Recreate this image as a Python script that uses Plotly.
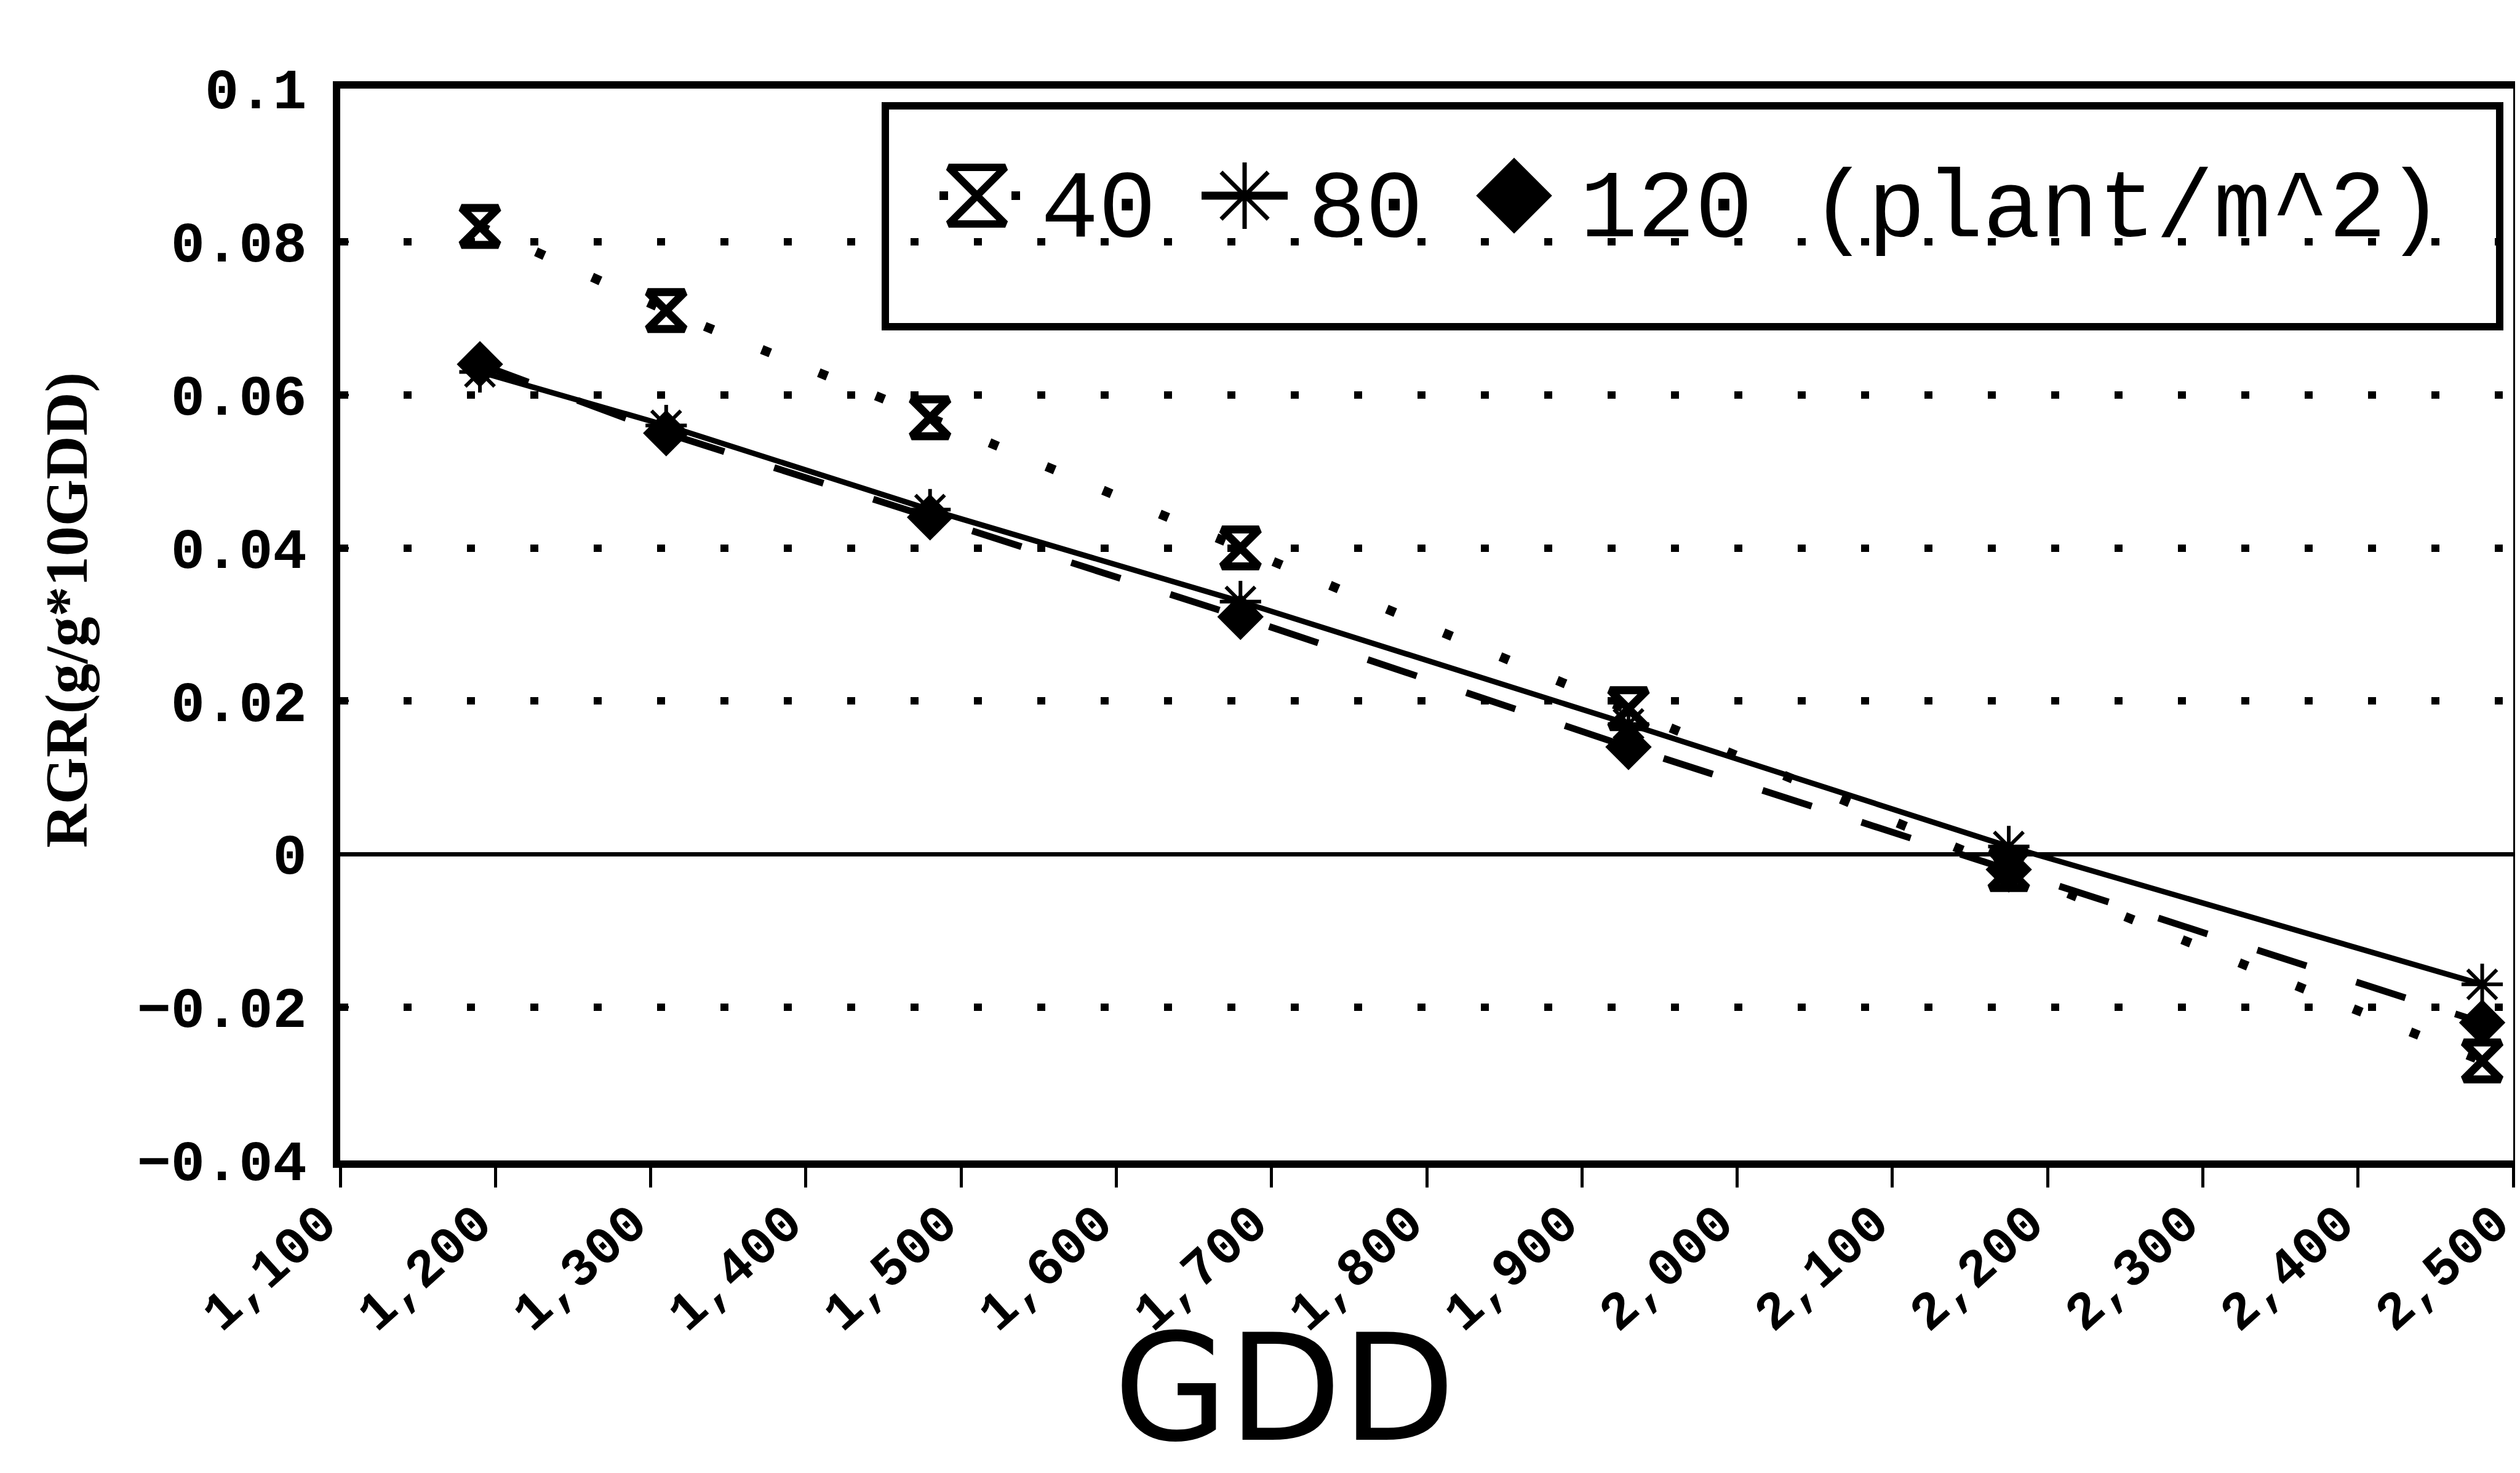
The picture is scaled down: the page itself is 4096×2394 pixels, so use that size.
import plotly.graph_objects as go

# ---------------- data ----------------
gdd = [1190, 1310, 1480, 1680, 1930, 2175, 2480]
rgr_40 = [0.082, 0.071, 0.057, 0.040, 0.019, -0.002, -0.027]
rgr_80 = [0.063, 0.056, 0.045, 0.033, 0.017, 0.001, -0.017]
rgr_120 = [0.064, 0.055, 0.044, 0.031, 0.014, -0.002, -0.022]

series_labels = ["40", "80", "120 (plant/m^2)"]

x_tickvals = [1100, 1200, 1300, 1400, 1500, 1600, 1700, 1800,
              1900, 2000, 2100, 2200, 2300, 2400, 2500]
x_ticktext = ["1,100", "1,200", "1,300", "1,400", "1,500", "1,600", "1,700",
              "1,800", "1,900", "2,000", "2,100", "2,200", "2,300", "2,400",
              "2,500"]
y_tickvals = [0.1, 0.08, 0.06, 0.04, 0.02, 0, -0.02, -0.04]
y_ticktext = ["0.1", "0.08", "0.06", "0.04", "0.02", "0", "\u22120.02", "\u22120.04"]

x_title = "GDD"
y_title = "RGR(g/g*10GDD)"

# ---------------- figure ----------------
W, H = 4096, 2394
ML, MR, MT, MB = 545, 19, 136, 516
PW, PH = W - ML - MR, H - MT - MB


def px(xp):
    return (xp - ML) / PW


def py(yp):
    return (H - MB - yp) / PH


BLACK = "#000000"
YTICKFONT = dict(family="Liberation Mono", size=92, color=BLACK, weight="bold")
XTICKFONT = dict(family="Liberation Mono", size=86, color=BLACK, weight="bold")

fig = go.Figure()

fig.add_trace(go.Scatter(
    x=gdd, y=rgr_40, mode="lines+markers", name=series_labels[0],
    line=dict(color=BLACK, width=15, dash="15px,85px"),
    marker=dict(symbol="hourglass-open", size=60, color=BLACK,
                line=dict(color=BLACK, width=13)),
    showlegend=False, cliponaxis=False))

fig.add_trace(go.Scatter(
    x=gdd, y=rgr_120, mode="lines+markers", name=series_labels[2],
    line=dict(color=BLACK, width=11, dash="84px,85px"),
    marker=dict(symbol="diamond", size=58, color=BLACK),
    showlegend=False, cliponaxis=False))

fig.add_trace(go.Scatter(
    x=gdd, y=rgr_80, mode="lines+markers", name=series_labels[1],
    line=dict(color=BLACK, width=9),
    marker=dict(symbol="asterisk-open", size=56, color=BLACK,
                line=dict(color=BLACK, width=6)),
    showlegend=False, cliponaxis=False))

# ---------------- hand-built legend (large symbols like the reference) ----------------
leg_marker_y = py(310)
leg_text_y = py(334)
leg_sym_x = [px(1580), px(2015), px(2453)]
leg_text_x = [px(1682), px(2116), px(2558)]

fig.add_trace(go.Scatter(
    x=[leg_sym_x[0]], y=[leg_marker_y], xaxis="x2", yaxis="y2", mode="markers",
    marker=dict(symbol="hourglass-open", size=92, color=BLACK,
                line=dict(color=BLACK, width=12)),
    showlegend=False, hoverinfo="skip"))
fig.add_trace(go.Scatter(
    x=[leg_sym_x[1]], y=[leg_marker_y], xaxis="x2", yaxis="y2", mode="markers",
    marker=dict(symbol="asterisk-open", size=90, color=BLACK,
                line=dict(color=BLACK, width=7)),
    showlegend=False, hoverinfo="skip"))
fig.add_trace(go.Scatter(
    x=[leg_sym_x[2]], y=[leg_marker_y], xaxis="x2", yaxis="y2", mode="markers",
    marker=dict(symbol="diamond", size=95, color=BLACK),
    showlegend=False, hoverinfo="skip"))

shapes = [
    # legend frame
    dict(type="rect", xref="paper", yref="paper",
         x0=px(1431), x1=px(4055), y0=py(523), y1=py(164),
         line=dict(color=BLACK, width=12), fillcolor="white", layer="below"),
    # dotted segment for 40
    dict(type="line", xref="paper", yref="paper",
         x0=px(1519), x1=px(1650), y0=leg_marker_y, y1=leg_marker_y,
         line=dict(color=BLACK, width=14, dash="14px,103px")),
    # solid segment for 80
    dict(type="line", xref="paper", yref="paper",
         x0=px(1945), x1=px(2085), y0=leg_marker_y, y1=leg_marker_y,
         line=dict(color=BLACK, width=13)),
]

annotations = []
for lbl, xx in zip(series_labels, leg_text_x):
    annotations.append(dict(
        text=lbl, xref="paper", yref="paper", x=xx, y=leg_text_y,
        xanchor="left", yanchor="middle", showarrow=False,
        font=dict(family="Liberation Mono", size=156, color=BLACK)))

annotations.append(dict(
    text=x_title, xref="paper", yref="paper", x=px(2080), y=py(2391),
    xanchor="center", yanchor="bottom", showarrow=False,
    font=dict(family="DejaVu Sans", size=240, color=BLACK)))
annotations.append(dict(
    text=y_title, xref="paper", yref="paper", x=px(100), y=py(984),
    xanchor="center", yanchor="middle", showarrow=False, textangle=-90,
    font=dict(family="Liberation Serif", size=98, color=BLACK, weight="bold")))

fig.update_layout(
    width=W, height=H,
    margin=dict(l=ML, r=MR, t=MT, b=MB, pad=0, autoexpand=False),
    paper_bgcolor="white", plot_bgcolor="white",
    showlegend=False,
    shapes=shapes, annotations=annotations,
    xaxis=dict(
        range=[1100, 2500], tickmode="array", tickvals=x_tickvals,
        ticktext=x_ticktext, tickangle=-42, tickfont=XTICKFONT,
        ticks="outside", ticklen=32, tickwidth=5, tickcolor=BLACK,
        showline=True, linecolor=BLACK, linewidth=12, mirror=True,
        showgrid=False, zeroline=False, ticklabelstandoff=-28,
        ticklabelshift=-30, ticklabeloverflow="allow", automargin=False),
    yaxis=dict(
        range=[-0.04, 0.1], tickmode="array", tickvals=y_tickvals,
        ticktext=y_ticktext, tickfont=YTICKFONT,
        ticks="inside", ticklen=14, tickwidth=4, tickcolor=BLACK,
        showline=True, linecolor=BLACK, linewidth=12, mirror=True,
        showgrid=True, gridcolor=BLACK, gridwidth=12, griddash="13px,90px",
        zeroline=True, zerolinecolor=BLACK, zerolinewidth=7,
        ticklabelstandoff=24, automargin=False),
    xaxis2=dict(overlaying="x", range=[0, 1], visible=False, fixedrange=True),
    yaxis2=dict(overlaying="y", range=[0, 1], visible=False, fixedrange=True),
)

fig.write_html("out.html")
